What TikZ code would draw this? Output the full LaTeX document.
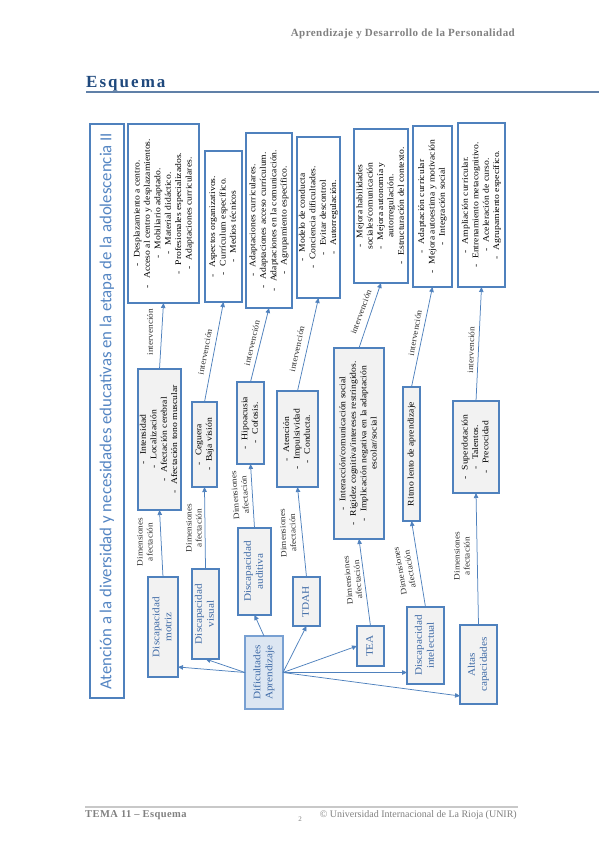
\documentclass[tikz,border=0pt]{standalone}
\usepackage{fontspec}
\setmainfont{Liberation Serif}
\newfontfamily\bxf[FakeStretch=1.12]{Liberation Serif}
\newfontfamily\ttlf{Carlito}
\newfontfamily\hdf[LetterSpace=4]{Liberation Serif}
\newfontfamily\esqf[LetterSpace=12]{Liberation Serif}
\usetikzlibrary{arrows.meta}
\definecolor{bblue}{RGB}{79,129,189}
\definecolor{rblue}{RGB}{120,160,210}
\definecolor{cblue}{RGB}{62,106,166}
\definecolor{tblue}{RGB}{84,133,194}
\definecolor{gfill}{RGB}{242,242,242}
\definecolor{rfill}{RGB}{220,230,242}
\definecolor{hgray}{RGB}{128,128,128}
\definecolor{dblue}{RGB}{31,73,125}
\definecolor{ulcol}{RGB}{96,128,168}
\definecolor{flcol}{RGB}{200,200,200}
\newcommand\rotl[1]{\rotatebox{90}{\begin{tabular}{@{}c@{}}#1\end{tabular}}}
\newcommand\bul[1]{-\hspace{6pt}#1}
\begin{document}
\begin{tikzpicture}[x=1pt,y=-1pt,
  sz/.style 2 args={minimum width=#1pt,minimum height=#2pt},
  box/.style={draw=bblue,line width=1.1pt,inner sep=0pt,outer sep=0pt,align=center},
  ibox/.style={box,fill=white,font=\bxf\fontsize{8.6}{10.4}\selectfont},
  dbox/.style={box,fill=gfill,font=\bxf\fontsize{8.6}{10.4}\selectfont},
  cbox/.style={box,fill=gfill,text=cblue,line width=1.3pt,font=\bxf\fontsize{10}{12}\selectfont},
  rbox/.style={box,fill=rfill,draw=rblue,text=cblue,line width=1.6pt,font=\bxf\fontsize{10}{12}\selectfont},
  lbl/.style={inner sep=0pt,align=center,text=black!80,font=\bxf\fontsize{8.3}{10}\selectfont},
  arr/.style={draw=bblue,line width=0.75pt,-{Triangle[length=5pt,width=4.5pt]}},
]
\useasboundingbox (0,0) rectangle (599,848);

% header
\node[anchor=base east,inner sep=0pt,text=hgray,font=\hdf\bfseries\fontsize{11}{13}\selectfont] (hdr) at (515,37) {Aprendizaje y Desarrollo de la Personalidad};
\node[anchor=base west,inner sep=0pt,text=dblue,font=\esqf\bfseries\fontsize{17}{20}\selectfont] (esq) at (86,87.5) {Esquema};
\coordinate (ul1) at (86,92);
\coordinate (ul2) at (599,92);
\draw[ulcol,line width=1.8pt] (ul1) -- (ul2);

% footer
\coordinate (fl1) at (85,807);
\coordinate (fl2) at (518,807);
\draw[flcol,line width=1.5pt] (fl1) -- (fl2);
\node[anchor=base west,inner sep=0pt,text=hgray,font=\hdf\bfseries\fontsize{10.5}{12}\selectfont] (ftl) at (85,817.5) {TEMA 11 – Esquema};
\node[anchor=base,inner sep=0pt,text=hgray,font=\fontsize{7}{8}\selectfont] (pg) at (300,821) {2};
\node[anchor=base east,inner sep=0pt,text=hgray,font=\fontsize{10}{12}\selectfont] (ftr) at (517,817.5) {© Universidad Internacional de La Rioja (UNIR)};

% title box
\node[box,sz={34}{574},text=tblue,font=\ttlf\fontsize{16.8}{19}\selectfont] (T) at (107,411) {\rotatebox{90}{Atención a la diversidad y necesidades educativas en la etapa de la adolescencia II}};

% intervention boxes
\node[ibox,sz={71}{179}] (I1) at (163.5,213.5) {\rotl{\bul{Desplazamiento a centro.}\\ \bul{Acceso al centro y desplazamientos.}\\ \bul{Mobiliario adaptado.}\\ \bul{Material didáctico.}\\ \bul{Profesionales especializados.}\\ \bul{Adaptaciones curriculares.}}};
\node[ibox,sz={37}{151}] (I2) at (223.5,226.5) {\rotl{\bul{Aspectos organizativos.}\\ \bul{Currículum específico.}\\ \bul{Medios técnicos}}};
\node[ibox,sz={46}{175}] (I3) at (269,220.5) {\rotl{\bul{Adaptaciones curriculares.}\\ \bul{Adaptaciones acceso currículum.}\\ \bul{Adaptaciones en la comunicación.}\\ \bul{Agrupamiento específico.}}};
\node[ibox,sz={43}{161}] (I4) at (318.5,217.5) {\rotl{\bul{Modelo de conducta}\\ \bul{Conciencia dificultades.}\\ \bul{Evitar descontrol}\\ \bul{Autorregulación.}}};
\node[ibox,sz={54}{154}] (I5) at (381,206) {\rotl{\bul{Mejora habilidades}\\ sociales/comunicación\\ \bul{Mejora autonomía y}\\ autorregulación.\\ \bul{Estructuración del contexto.}}};
\node[ibox,sz={39}{161}] (I6) at (432.5,206.5) {\rotl{\bul{Adaptación curricular}\\ \bul{Mejora autoestima y motivación}\\ \bul{Integración social}}};
\node[ibox,sz={47}{164}] (I7) at (481.5,205) {\rotl{\bul{Ampliación curricular.}\\ \bul{Entrenamiento metacognitivo.}\\ \bul{Aceleración de curso.}\\ \bul{Agrupamiento específico.}}};

% dimension boxes
\node[dbox,sz={43}{141}] (D1) at (159.5,439.5) {\rotl{\bul{Intensidad}\\ \bul{Localización}\\ \bul{Afectación cerebral}\\ \bul{Afectación tono muscular}}};
\node[dbox,sz={25}{85}] (D2) at (204.5,444.5) {\rotl{\bul{Ceguera}\\ \bul{Baja visión}}};
\node[dbox,sz={27}{82}] (D3) at (250.5,423) {\rotl{\bul{Hipoacusia}\\ \bul{Cofosis.}}};
\node[dbox,sz={41}{96}] (D4) at (297.5,439) {\rotl{\bul{Atención}\\ \bul{Impulsividad}\\ \bul{Conducta.}}};
\node[dbox,sz={50}{191}] (D5) at (359,443.5) {\rotl{\bul{Interacción/comunicación social}\\ \bul{Rigidez cognitiva/intereses restringidos.}\\ \bul{Implicación negativa en la adaptación}\\ escolar/social}};
\node[dbox,sz={17}{134}] (D6) at (411.5,454) {\rotl{Ritmo lento de aprendizaje}};
\node[dbox,sz={46}{92}] (D7) at (476,447) {\rotl{\bul{Superdotación}\\ \bul{Talentos.}\\ \bul{Precocidad}}};

% category boxes
\node[cbox,sz={30}{100}] (C1) at (163,627) {\rotl{Discapacidad\\ motriz}};
\node[cbox,sz={27}{90}] (C2) at (205.5,614) {\rotl{Discapacidad\\ visual}};
\node[cbox,sz={33}{87}] (C3) at (254.5,571.5) {\rotl{Discapacidad\\ auditiva}};
\node[cbox,sz={27}{49}] (C4) at (306.5,601.5) {\rotl{TDAH}};
\node[cbox,sz={27}{40}] (C5) at (370.5,646) {\rotl{TEA}};
\node[cbox,sz={37}{77}] (C6) at (425.5,645.5) {\rotl{Discapacidad\\ intelectual}};
\node[cbox,sz={37}{79}] (C7) at (478.5,664.5) {\rotl{Altas\\ capacidades}};

% root
\node[rbox,sz={38}{73}] (R) at (264,672.5) {\rotl{Dificultades\\ Aprendizaje}};

% root connectors
\draw[arr] (R.west) -- ([yshift=10pt]C1.south east);
\draw[arr] (R.west) -- (C2.south);
\draw[arr] (R.north) -- (C3.south);
\draw[arr] (R.east) -- (C4.south);
\draw[arr] (R.east) -- (C5.west);
\draw[arr] (R.east) -- (C6.west |- R.east);
\draw[arr] (R.east) -- ([yshift=8pt]C7.south west);

% category -> dimensions
\draw[arr] (C1.north) -- (D1.south);
\draw[arr] (C2.north) -- (D2.south);
\draw[arr] (C3.north) -- (D3.south);
\draw[arr] (C4.north) -- (D4.south);
\draw[arr] (C5.north) -- (D5.south);
\draw[arr] (C6.north) -- (D6.south);
\draw[arr] (C7.north) -- (D7.south);

% dimensions -> intervention
\draw[arr] (D1.north) -- (I1.south);
\draw[arr] (D2.north) -- (I2.south);
\draw[arr] (D3.north) -- (I3.south);
\draw[arr] (D4.north) -- (I4.south);
\draw[arr] (D5.north) -- (I5.south);
\draw[arr] (D6.north) -- (I6.south);
\draw[arr] (D7.north) -- (I7.south);

% labels
\node[lbl,rotate=90] (L1) at (145,542) {Dimensiones\\afectación};
\node[lbl,rotate=90] (L2) at (194,528) {Dimensiones\\afectación};
\node[lbl,rotate=94] (L3) at (240,495) {Dimensiones\\afectación};
\node[lbl,rotate=92] (L4) at (288,533) {Dimensiones\\afectación};
\node[lbl,rotate=95] (L5) at (353,580) {Dimensiones\\afectación};
\node[lbl,rotate=100] (L6) at (405,570) {Dimensiones\\afectación};
\node[lbl,rotate=90] (L7) at (462,556) {Dimensiones\\afectación};

\node[lbl,rotate=90] (N1) at (150,332) {intervención};
\node[lbl,rotate=79] (N2) at (205,352) {intervención};
\node[lbl,rotate=77] (N3) at (252,343) {intervención};
\node[lbl,rotate=78] (N4) at (297,349) {intervención};
\node[lbl,rotate=70] (N5) at (361,312) {intervención};
\node[lbl,rotate=80] (N6) at (415,333) {intervención};
\node[lbl,rotate=88] (N7) at (471,350) {intervención};
\end{tikzpicture}
\end{document}
